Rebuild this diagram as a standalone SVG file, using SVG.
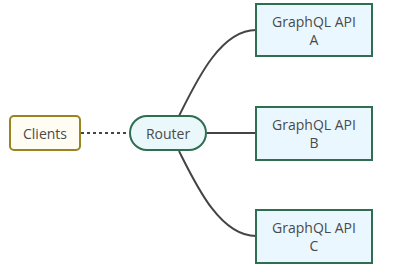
<svg xmlns="http://www.w3.org/2000/svg" width="396" height="269" viewBox="0 0 396 269">
<style>
text{font-family:"Open Sans","DejaVu Sans",sans-serif;font-size:14px;fill:#4a4a4a;text-anchor:middle;dominant-baseline:central}
.api{fill:#eaf7ff;stroke:#2f6e50;stroke-width:2}
.e{fill:none;stroke:#444;stroke-width:2}
</style>
<rect width="396" height="269" fill="#fff"/>
<g id="connectors">
<path class="e" d="M81,133 L129,133" stroke-dasharray="3,3"/>
<path class="e" d="M207,133 L256,133"/>
<path class="e" d="M179,116 C196,82 220,30 256,30"/>
<path class="e" d="M179,151 C196,185 220,236 256,236"/>
</g>
<g id="clients">
<rect x="10" y="116" width="70" height="34" rx="4" fill="#fffdf3" stroke="#9a8420" stroke-width="2"/>
<text x="45" y="133">Clients</text>
</g>
<g id="router">
<rect x="130" y="116" width="76" height="34" rx="17" fill="#eaf7fb" stroke="#2f6e50" stroke-width="2"/>
<text x="168" y="133">Router</text>
</g>
<g id="apiA">
<rect class="api" x="256" y="4" width="116" height="52"/>
<text x="314" y="21">GraphQL API</text>
<text x="314" y="39">A</text>
</g>
<g id="apiB">
<rect class="api" x="256" y="107" width="116" height="53"/>
<text x="314" y="124">GraphQL API</text>
<text x="314" y="142">B</text>
</g>
<g id="apiC">
<rect class="api" x="256" y="210" width="116" height="53"/>
<text x="314" y="227">GraphQL API</text>
<text x="314" y="245">C</text>
</g>
</svg>
